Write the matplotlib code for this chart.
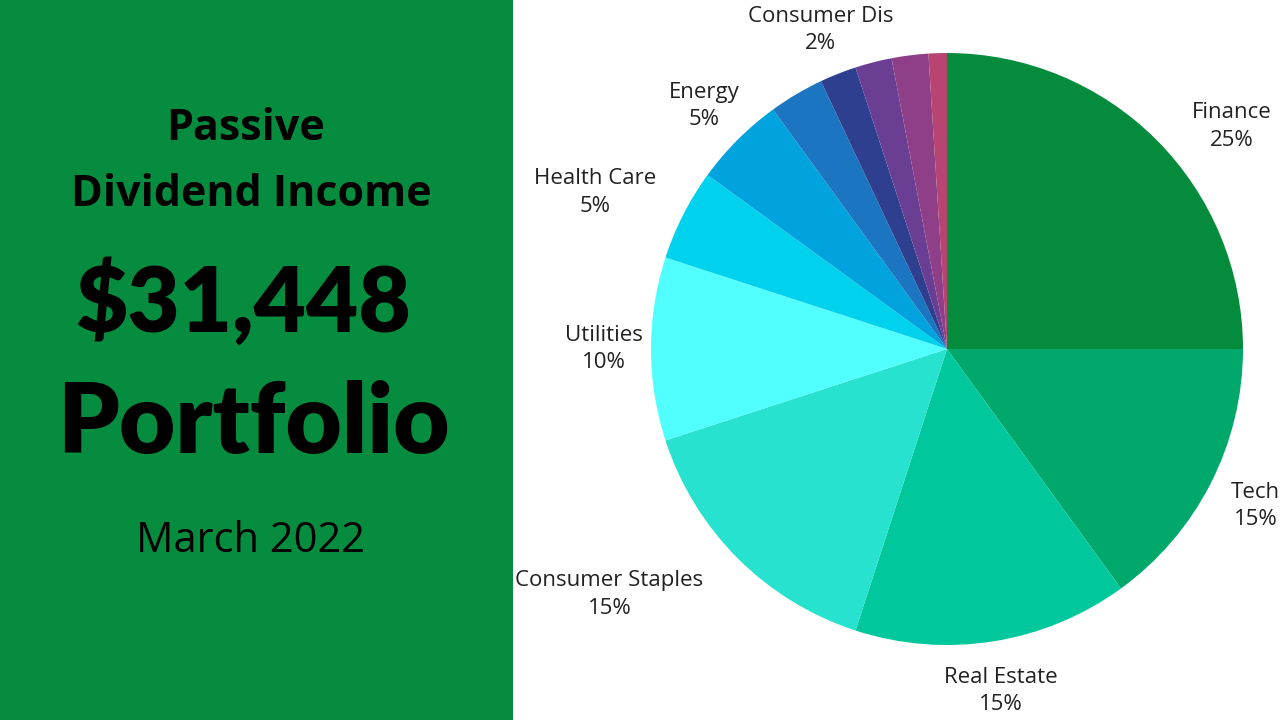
import matplotlib.pyplot as plt
import numpy as np

sectors = ['Finance', 'Tech', 'Real Estate', 'Consumer Staples', 'Utilities',
           'Health Care', 'Energy', '', 'Consumer Dis', '', '', '']
shares = [25, 15, 15, 15, 10, 5, 5, 3, 2, 2, 2, 1]
colors = ['#048C3C', '#00A86B', '#00C89C', '#26E2CF', '#52FFFF', '#00D2EE',
          '#00A3DD', '#1B75C0', '#2E3F8F', '#6A3F93', '#8E3F88', '#B84471']
# label distance and angular nudge (degrees) per wedge
label_dist = [1.22, 1.17, 1.17, 1.41, 1.16, 1.30, 1.16, 1.16, 1.16, 1.16, 1.16, 1.16]
label_nudge = [-7, 0, 0, -9, 0, 3, 0, 0, 0, 0, 0, 0]

fig = plt.figure(figsize=(12.8, 7.2), dpi=100)
fig.patch.set_facecolor('white')

# left green panel
left = fig.add_axes([0, 0, 513 / 1280, 1])
left.set_xlim(0, 513)
left.set_ylim(720, 0)
left.axis('off')
left.add_patch(plt.Rectangle((0, 0), 513, 720, color='#058C3E'))
left.text(246, 128, 'Passive', ha='center', va='center', fontsize=31, fontweight='bold', family='Open Sans')
left.text(251, 194, 'Dividend Income', ha='center', va='center', fontsize=31, fontweight='bold', family='Open Sans')
left.text(243, 302, '$31,448', ha='center', va='center', fontsize=65, fontweight='heavy', family='Lato')
left.text(253, 425, 'Portfolio', ha='center', va='center', fontsize=70, fontweight='heavy', family='Lato')
left.text(251, 541, 'March 2022', ha='center', va='center', fontsize=30, family='Open Sans')

# pie
r = 296
ax = fig.add_axes([(947 - r) / 1280, (720 - 349 - r) / 720, 2 * r / 1280, 2 * r / 720])
wedges, _ = ax.pie(shares, colors=colors, startangle=90, counterclock=False,
                   wedgeprops=dict(linewidth=0))
ax.set_aspect('auto')
ax.set_xlim(-1, 1)
ax.set_ylim(-1, 1)
for w, name, val, d, n in zip(wedges, sectors, shares, label_dist, label_nudge):
    if not name:
        continue
    ang = np.deg2rad((w.theta1 + w.theta2) / 2 + n)
    ax.text(d * np.cos(ang), d * np.sin(ang), f'{name}\n{val}%', ha='center', va='center',
            fontsize=16, family='Open Sans', color='#222222', linespacing=1.4, clip_on=False)

fig.savefig('out.png', dpi=100)
